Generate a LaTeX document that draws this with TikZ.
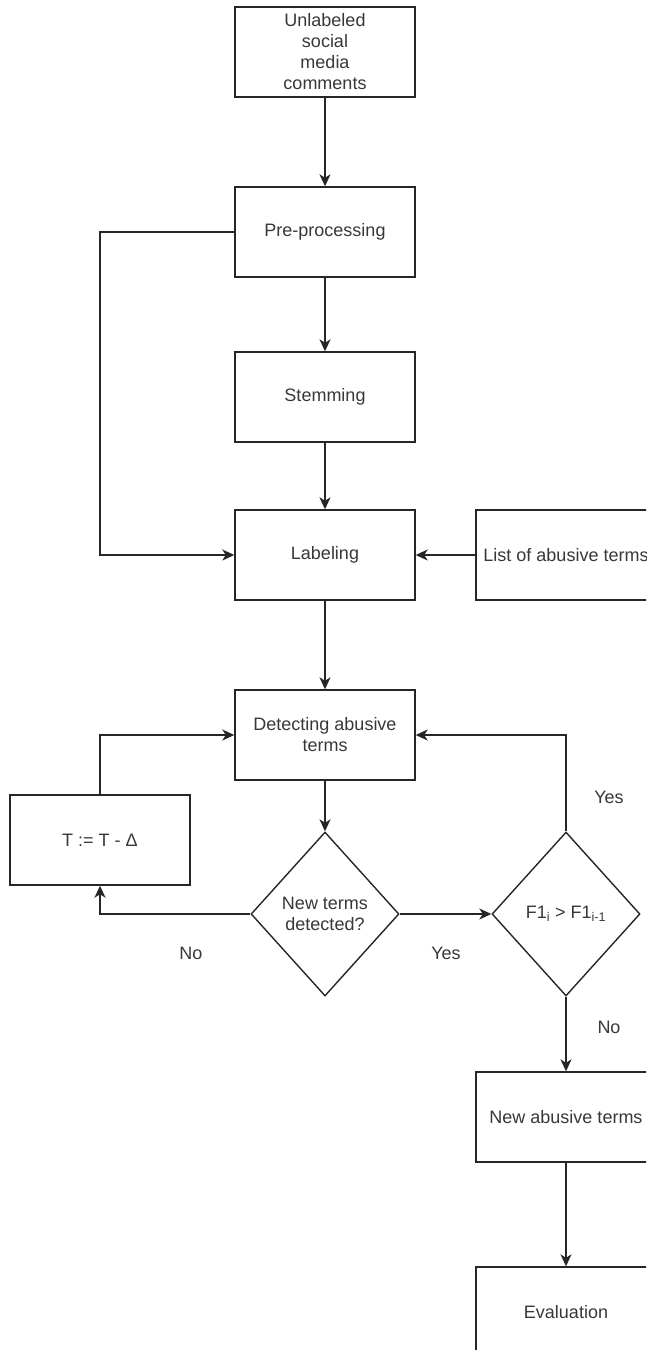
\documentclass[tikz,border=0pt]{standalone}
\usepackage{fontspec}
\setmainfont{Liberation Sans}
\usetikzlibrary{shapes.geometric,arrows.meta}
\begin{document}
\begin{tikzpicture}[x=1pt,y=-1pt,
  txt/.style={text=black!78, font=\fontsize{18}{21}\selectfont},
  box/.style={txt, draw=black!85, line width=1.4pt, minimum width=180pt, minimum height=90pt, inner sep=2pt, align=center, fill=white},
  dia/.style={txt, diamond, draw=black!85, line width=1.4pt, minimum width=148pt, minimum height=164pt, inner sep=0pt, align=center, fill=white},
  arr/.style={draw=black!85, line width=1.4pt, -{Stealth[length=12pt,width=11pt,inset=3.5pt]}}
]
\useasboundingbox (0,0) rectangle (646,1350);
\clip (0,0) rectangle (646,1350);
\node[box] (src) at (325,52) {Unlabeled\\social\\media\\comments};
\node[box] (pre) at (325,232) {Pre-processing};
\node[box] (stem) at (325,397) {Stemming};
\node[box] (lab) at (325,555) {Labeling};
\node[box] (list) at (566,555) {List of abusive terms};
\node[box] (det) at (325,735) {Detecting abusive\\terms};
\node[box] (tt) at (100,840) {T := T - Δ};
\node[dia] (q1) at (325,914) {New terms\\detected?};
\node[dia] (q2) at (566,914) {F1\textsubscript{i} > F1\textsubscript{i-1}};
\node[box] (new) at (566,1117) {New abusive terms};
\node[box] (ev) at (566,1312) {Evaluation};
\node[txt] (l1) at (609,797) {Yes};
\node[txt] (l2) at (191,953) {No};
\node[txt] (l3) at (446,953) {Yes};
\node[txt] (l4) at (609,1027) {No};
\draw[arr] (src) -- (pre);
\draw[arr] (pre) -- (stem);
\draw[arr] (stem) -- (lab);
\draw[arr] (pre.west) -- (pre.west -| tt.north) |- (lab.west);
\draw[arr] (list) -- (lab);
\draw[arr] (lab) -- (det);
\draw[arr] (det) -- (q1);
\draw[arr] (q1.west) -| (tt.south);
\draw[arr] (tt.north) |- (det.west);
\draw[arr] (q1.east) -- (q2.west);
\draw[arr] (q2.north) |- (det.east);
\draw[arr] (q2.south) -- (new.north);
\draw[arr] (new) -- (ev);
\end{tikzpicture}
\end{document}
